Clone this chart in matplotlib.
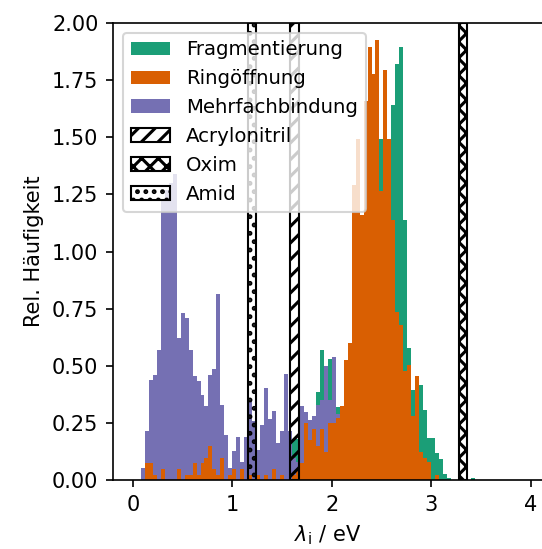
import numpy as np
import matplotlib
matplotlib.use('Agg')
import matplotlib.pyplot as plt

plt.rcParams['hatch.linewidth'] = 1.5

# histogram bins (eV)
bin_width = 0.04

# Mehrfachbindung, first bin starts at 0.08 eV
mehrfach_start = 0.08
mehrfach = [0.053, 0.217, 0.44, 0.463, 0.572, 1.23, 1.27, 1.30, 1.34, 0.624,
            0.733, 0.708, 0.568, 0.458, 0.436, 0.375, 0.327, 0.463, 0.489, 0.814,
            0.331, 0.2, 0.054, 0.13, 0.19,
            0.08, 0.19, 0.353, 0.258, 0.134, 0.243, 0.404, 0.27, 0.302, 0.164,
            0.217, 0.466, 0.217, 0.1, 0.08,
            0.327, 0.298, 0.265, 0.28, 0.33, 0.353, 0.5, 0.353, 0.54, 0.29]

# Ringoeffnung, first bin starts at 0.12 eV
ring_start = 0.12
ring = [0.075, 0.075, 0.025, 0, 0.05, 0, 0, 0, 0.05, 0,
        0.025, 0.025, 0.075, 0.025, 0.075, 0.1, 0.15, 0.05, 0.025, 0.1,
        0, 0.025, 0.05, 0,
        0.05, 0, 0.025, 0, 0.025, 0, 0.025, 0, 0.05, 0,
        0.025, 0, 0, 0.025, 0.05,
        0.075, 0.25, 0.175, 0.225, 0.15, 0.225, 0.125, 0.25, 0.25, 0.275,
        0.325, 0.525, 0.6,
        1.29, 1.49, 1.16, 1.66, 1.895, 1.775, 1.925, 1.265, 1.795, 1.49,
        1.14, 0.735, 0.68, 0.48, 0.505, 0.28, 0.455, 0.125, 0.1, 0.08,
        0, 0.025]

# Fragmentierung, first bin starts at 1.60 eV
frag_start = 1.60
frag = [0.18, 0.18, 0.15, 0.2, 0.2, 0.24, 0.387, 0.568, 0.45, 0.531,
        0.5, 0.32, 0.3, 0.45, 0.55, 0.8, 1.0, 1.1, 1.3, 1.4,
        1.5, 1.6, 1.493, 1.6, 1.45, 1.642, 1.818, 1.895, 1.138, 0.58,
        0.397, 0.42, 0.419, 0.309, 0.185, 0.185, 0.122, 0.093, 0.029, 0.01,
        0, 0, 0, 0, 0, 0.01]

# reference molecules: (name, lower, upper, hatch)
ref_names = ['Acrylonitril', 'Oxim', 'Amid']
ref_lo = [1.584, 3.28, 1.154]
ref_hi = [1.671, 3.363, 1.241]
ref_hatch = ['///', 'xxx', '...']

colors = plt.get_cmap('Dark2').colors


def edges(start, vals):
    return start + bin_width * np.arange(len(vals))


fig = plt.figure(figsize=(542 / 150, 549 / 150), dpi=150)
ax = fig.add_axes([0.2085, 0.1248, 0.7934, 0.8339])

b_frag = ax.bar(edges(frag_start, frag), frag, width=bin_width, align='edge',
                color=colors[0], linewidth=0, label='Fragmentierung')
b_mehr = ax.bar(edges(mehrfach_start, mehrfach), mehrfach, width=bin_width, align='edge',
                color=colors[2], linewidth=0, label='Mehrfachbindung')
b_ring = ax.bar(edges(ring_start, ring), ring, width=bin_width, align='edge',
                color=colors[1], linewidth=0, label='Ringöffnung')

spans = []
for name, lo, hi, h in zip(ref_names, ref_lo, ref_hi, ref_hatch):
    spans.append(ax.axvspan(lo, hi, fill=False, hatch=h, edgecolor='black',
                            linewidth=1.0, label=name))

ax.set_xlim(-0.2, 4.125)
ax.set_ylim(0, 2)
ax.set_yticks(np.arange(0, 2.01, 0.25))
ax.set_xticks([0, 1, 2, 3, 4])
ax.set_xlabel(r'$\lambda_\mathrm{i}$ / eV')
ax.set_ylabel('Rel. Häufigkeit')
ax.spines['right'].set_visible(False)

ax.legend([b_frag, b_ring, b_mehr] + spans,
          ['Fragmentierung', 'Ringöffnung', 'Mehrfachbindung'] + ref_names,
          loc='upper left', fontsize=9.5)

fig.savefig('out.png', dpi=150)
